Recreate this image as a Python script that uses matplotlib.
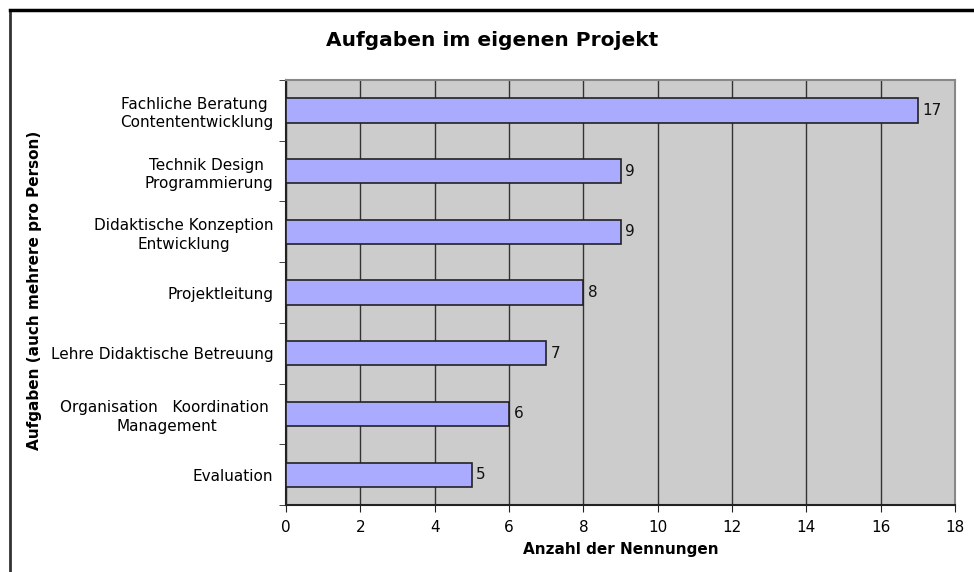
import numpy as np
import matplotlib.pyplot as plt

# Aufgaben im eigenen Projekt
kategorien = ['Evaluation',
              'Organisation   Koordination \nManagement',
              'Lehre Didaktische Betreuung',
              'Projektleitung',
              'Didaktische Konzeption\nEntwicklung',
              'Technik Design \nProgrammierung',
              'Fachliche Beratung \nContententwicklung']
nennungen = [5, 6, 7, 8, 9, 9, 17]
x_ticks = [0, 2, 4, 6, 8, 10, 12, 14, 16, 18]

W, H = 974, 572
fig = plt.figure(figsize=(W / 100, H / 100), dpi=100)
plt.rcParams['font.family'] = ['DejaVu Sans']

# outer chart frame (top + left visible)
fig.add_artist(plt.Line2D([10 / W, 10 / W], [0, 1 - 10 / H], color='#333333', lw=2))
fig.add_artist(plt.Line2D([10 / W, 1], [1 - 10 / H, 1 - 10 / H], color='black', lw=2.5))

ax = fig.add_axes([286 / W, 1 - 505 / H, (955 - 286) / W, (505 - 80) / H])
ax.set_facecolor('#cccccc')

y = np.arange(len(kategorien))
ax.barh(y, nennungen, height=0.4, color='#aaaaff', edgecolor='#222222', linewidth=1.2, zorder=3)
for yi, v in zip(y, nennungen):
    ax.text(v + 0.12, yi, str(v), va='center', ha='left', fontsize=11, color='#111111')

ax.set_xlim(0, 18)
ax.set_ylim(-0.5, len(kategorien) - 0.5)
ax.set_xticks(x_ticks)
ax.xaxis.grid(True, color='#333333', linewidth=1)
ax.set_axisbelow(True)

ax.set_yticks(y)
ax.set_yticklabels(kategorien, fontsize=11, ha='right', multialignment='center',
                   linespacing=1.3)
ax.tick_params(axis='y', length=0, pad=9)
# category boundary ticks
ax.set_yticks(np.arange(-0.5, len(kategorien), 1), minor=True)
ax.tick_params(axis='y', which='minor', length=5, color='#222222', direction='out')
ax.tick_params(axis='x', length=5, color='#222222', direction='out', labelsize=11, pad=6)

for s in ax.spines.values():
    s.set_color('#888888')
    s.set_linewidth(1.5)
ax.spines['left'].set_color('#222222')
ax.spines['bottom'].set_color('#222222')

ax.set_xlabel('Anzahl der Nennungen', fontsize=11, fontweight='bold', labelpad=5)
fig.text(35 / W, 1 - 290 / H, 'Aufgaben (auch mehrere pro Person)', rotation=90,
         fontsize=11, fontweight='bold', ha='center', va='center')
fig.text(492 / W, 1 - 41 / H, 'Aufgaben im eigenen Projekt', fontsize=14.5,
         fontweight='bold', ha='center', va='center')

fig.savefig('out.png', dpi=100)
